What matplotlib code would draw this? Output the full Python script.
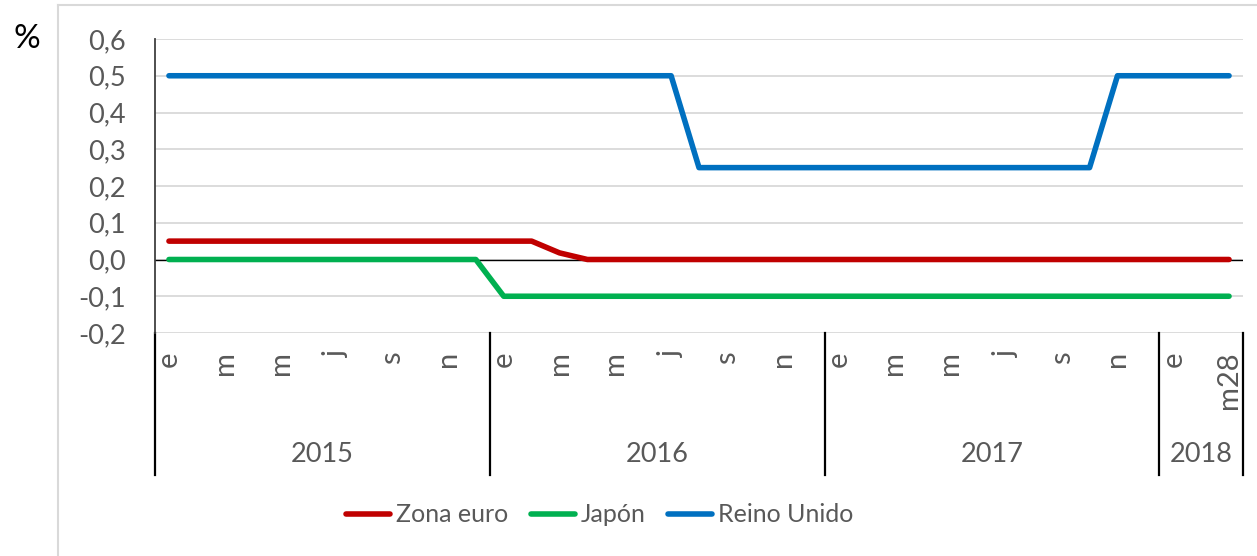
import matplotlib
matplotlib.use("Agg")
import matplotlib.pyplot as plt
from matplotlib.lines import Line2D

plt.rcParams['font.family'] = ['Lato', 'DejaVu Sans']

# ---- data ----
month_labels = ["e", "", "m", "", "m", "", "j", "", "s", "", "n", "",
                "e", "", "m", "", "m", "", "j", "", "s", "", "n", "",
                "e", "", "m", "", "m", "", "j", "", "s", "", "n", "",
                "e", "", "m28"]
years = ["2015", "2016", "2017", "2018"]
year_counts = [12, 12, 12, 3]

zona_euro = [0.05, 0.05, 0.05, 0.05, 0.05, 0.05, 0.05, 0.05, 0.05, 0.05, 0.05, 0.05,
             0.05, 0.05, 0.018, 0.0, 0.0, 0.0, 0.0, 0.0, 0.0, 0.0, 0.0, 0.0,
             0.0, 0.0, 0.0, 0.0, 0.0, 0.0, 0.0, 0.0, 0.0, 0.0, 0.0, 0.0,
             0.0, 0.0, 0.0]
japon = [0.0, 0.0, 0.0, 0.0, 0.0, 0.0, 0.0, 0.0, 0.0, 0.0, 0.0, 0.0,
         -0.1, -0.1, -0.1, -0.1, -0.1, -0.1, -0.1, -0.1, -0.1, -0.1, -0.1, -0.1,
         -0.1, -0.1, -0.1, -0.1, -0.1, -0.1, -0.1, -0.1, -0.1, -0.1, -0.1, -0.1,
         -0.1, -0.1, -0.1]
reino_unido = [0.5, 0.5, 0.5, 0.5, 0.5, 0.5, 0.5, 0.5, 0.5, 0.5, 0.5, 0.5,
               0.5, 0.5, 0.5, 0.5, 0.5, 0.5, 0.5, 0.25, 0.25, 0.25, 0.25, 0.25,
               0.25, 0.25, 0.25, 0.25, 0.25, 0.25, 0.25, 0.25, 0.25, 0.25, 0.5, 0.5,
               0.5, 0.5, 0.5]
series = [("Zona euro", zona_euro, "#C00000"),
          ("Japón", japon, "#00B050"),
          ("Reino Unido", reino_unido, "#0070C0")]
yticks = [-0.2, -0.1, 0.0, 0.1, 0.2, 0.3, 0.4, 0.5, 0.6]

# ---- figure ----
W, H = 1257, 556
fig = plt.figure(figsize=(W / 100, H / 100), dpi=100)
fig.patch.set_facecolor("white")

# outer chart border (left and top visible)
fig.add_artist(Line2D([58 / W, 58 / W], [0, 1 - 5 / H], transform=fig.transFigure,
                      color="#D9D9D9", lw=1.5))
fig.add_artist(Line2D([58 / W, 1], [1 - 5 / H, 1 - 5 / H], transform=fig.transFigure,
                      color="#D9D9D9", lw=1.5))

left, right, top, bottom = 155, 1243, 39, 333
ax = fig.add_axes([left / W, 1 - bottom / H, (right - left) / W, (bottom - top) / H])

n = len(month_labels)
x = list(range(n))
for name, vals, col in series:
    ax.plot(x, vals, color=col, lw=4, solid_capstyle="round", solid_joinstyle="round",
            label=name, zorder=3)

ax.set_xlim(-0.5, n - 0.5)
ax.set_ylim(-0.2, 0.6)
ax.set_yticks(yticks)
ax.set_yticklabels([f"{v:.1f}".replace(".", ",") for v in yticks])
ax.yaxis.grid(True, color="#D9D9D9", lw=1.3, zorder=0)
ax.set_axisbelow(True)
ax.axhline(0, color="black", lw=1, zorder=2)

for s in ["top", "right", "bottom"]:
    ax.spines[s].set_visible(False)
ax.spines["left"].set_color("#404040")
ax.spines["left"].set_linewidth(1.3)

ax.tick_params(axis="y", length=0, pad=21, labelsize=19.5, labelcolor="#595959")
ax.tick_params(axis="x", length=0, pad=13, labelsize=21, labelcolor="#595959")
ax.set_xticks(x)
ax.set_xticklabels(month_labels, rotation=90, va="top", ha="center")

# year group separators and labels
sep_bottom = -(475 - bottom) / (bottom - top)
year_y = -(455 - bottom) / (bottom - top)
bounds = [-0.5]
for c in year_counts:
    bounds.append(bounds[-1] + c)
for b in bounds:
    ax.plot([b, b], [0, sep_bottom], transform=ax.get_xaxis_transform(),
            color="black", lw=1.6, clip_on=False)
for i, yr in enumerate(years):
    ax.text((bounds[i] + bounds[i + 1]) / 2, year_y, yr, transform=ax.get_xaxis_transform(),
            ha="center", va="center", fontsize=19.5, color="#595959")

fig.text(27 / W, 1 - 39 / H, "%", ha="center", va="center", fontsize=24, color="black")

leg = fig.legend(loc="center", bbox_to_anchor=(600 / W, 1 - 515 / H), ncol=3, frameon=False,
                 fontsize=18, handlelength=1.75, handletextpad=0.25, columnspacing=0.9,
                 labelcolor="#595959")
for h in leg.get_lines():
    h.set_linewidth(4)

fig.savefig("out.png", dpi=100, facecolor="white")
